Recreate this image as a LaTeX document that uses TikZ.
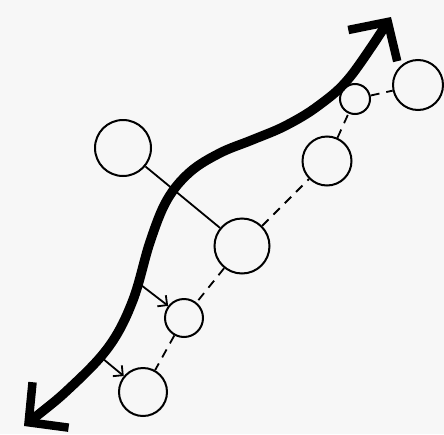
\documentclass[tikz,border=0pt]{standalone}
\usetikzlibrary{arrows.meta}
\begin{document}
\begin{tikzpicture}[x=1pt, y=-1pt,
  bubble/.style={circle, draw, line width=2pt, inner sep=0pt, minimum size=#1},
  link/.style={line width=1.8pt},
  dlink/.style={link, dash pattern=on 9pt off 7pt},
  feed/.style={link, -{Straight Barb[length=7pt, width=14pt, line width=1.8pt]}},
  stream/.style={line width=9.5pt, line cap=round,
    {Straight Barb[length=28pt, width=58pt, line width=8.5pt]}-{Straight Barb[length=28pt, width=58pt, line width=8.5pt]}}]
  \fill[black!3] (0,0) rectangle (444,434);
  \useasboundingbox (0,0) rectangle (444,434);
  % Blasen
  \node[bubble=56pt] (a) at (123,148) {};
  \node[bubble=55pt] (b) at (242,246) {};
  \node[bubble=49pt] (c) at (327,161) {};
  \node[bubble=30pt] (d) at (355,99)  {};
  \node[bubble=50pt] (e) at (418,85)  {};
  \node[bubble=38pt] (f) at (184,318) {};
  \node[bubble=48pt] (g) at (143,392) {};
  % Verbindungen
  \draw[link] (a) -- (b);
  \draw[dlink] (b) -- (c);
  \draw[dlink] (c) -- (d);
  \draw[dlink] (d) -- (e);
  \draw[dlink] (b) -- (f);
  \draw[dlink] (f) -- (g);
  % dicker Strom
  \draw[stream] plot[smooth, tension=0.6] coordinates {
    (24,426) (73,385) (110,345) (133,300) (150,242) (167,200)
    (190,172) (220,153) (252,140) (285,126) (318,106) (350,77) (391,17)};
  % Zufluesse
  \coordinate (p1) at (141,285);
  \coordinate (p2) at (102,358);
  \draw[feed] (p1) -- (f);
  \draw[feed] (p2) -- (g);
\end{tikzpicture}
\end{document}
